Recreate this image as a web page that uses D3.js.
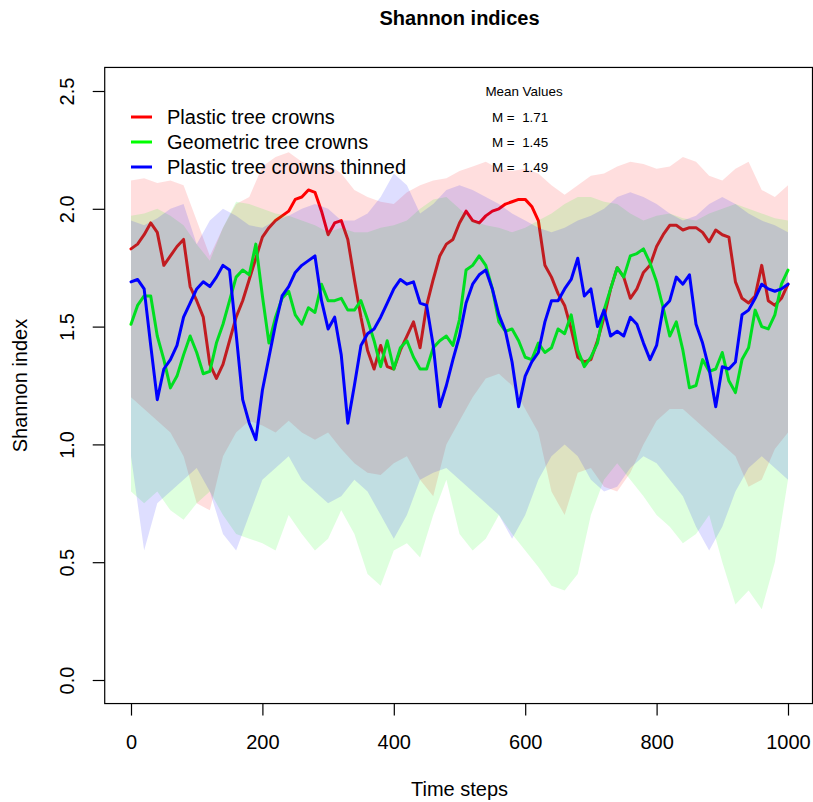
<!DOCTYPE html>
<html>
<head>
<meta charset="utf-8">
<script src="https://cdn.jsdelivr.net/npm/d3@7"></script>
<style>
  body { margin: 0; background: #fff; }
  svg { display: block; }
  text { font-family: "Liberation Sans", Arial, Helvetica, sans-serif; fill: #000; }
</style>
</head>
<body>
<svg id="chart" width="813" height="802"></svg>
<script>
// ---- data -------------------------------------------------------------
const seriesNames = ["Plastic tree crowns", "Geometric tree crowns", "Plastic tree crowns thinned"];
const seriesColors = ["#ff0000", "#00ff00", "#0000ff"];
const meanLabels = ["1.71", "1.45", "1.49"];

// mean curves, one value every 10 time steps (0..1000)
const lineSteps = d3.range(0, 1001, 10);
const plasticMean = [
  1.83,1.85,1.89,1.94,1.90,1.76,1.80,1.84,1.87,1.67,
  1.61,1.54,1.34,1.28,1.34,1.44,1.54,1.61,1.70,1.79,
  1.88,1.92,1.95,1.97,1.99,2.04,2.05,2.08,2.07,1.99,
  1.89,1.94,1.95,1.87,1.70,1.54,1.40,1.32,1.42,1.33,
  1.32,1.40,1.46,1.52,1.41,1.59,1.70,1.80,1.85,1.87,
  1.94,1.99,1.95,1.94,1.97,1.99,2.00,2.02,2.03,2.04,
  2.04,2.01,1.95,1.76,1.71,1.64,1.59,1.49,1.37,1.35,
  1.36,1.44,1.54,1.66,1.75,1.71,1.62,1.66,1.73,1.76,
  1.84,1.89,1.93,1.93,1.91,1.92,1.92,1.90,1.86,1.91,
  1.89,1.88,1.69,1.62,1.60,1.63,1.76,1.61,1.59,1.62,
  1.68];
const geometricMean = [
  1.51,1.59,1.63,1.63,1.46,1.36,1.24,1.29,1.38,1.46,
  1.39,1.30,1.31,1.43,1.51,1.61,1.71,1.74,1.72,1.85,
  1.63,1.43,1.54,1.62,1.65,1.55,1.51,1.58,1.56,1.68,
  1.61,1.61,1.62,1.57,1.57,1.61,1.53,1.44,1.33,1.44,
  1.32,1.41,1.44,1.37,1.32,1.32,1.41,1.44,1.46,1.42,
  1.53,1.74,1.76,1.80,1.76,1.66,1.52,1.48,1.49,1.44,
  1.37,1.36,1.43,1.39,1.41,1.49,1.47,1.55,1.40,1.33,
  1.37,1.43,1.57,1.66,1.75,1.71,1.80,1.81,1.83,1.77,
  1.69,1.58,1.46,1.52,1.40,1.24,1.25,1.36,1.31,1.32,
  1.39,1.27,1.22,1.36,1.41,1.57,1.50,1.49,1.55,1.68,
  1.74];
const thinnedMean = [
  1.69,1.70,1.66,1.42,1.19,1.32,1.36,1.42,1.54,1.60,
  1.66,1.69,1.67,1.71,1.76,1.74,1.47,1.19,1.09,1.02,
  1.23,1.37,1.51,1.63,1.67,1.73,1.76,1.78,1.80,1.61,
  1.49,1.54,1.38,1.09,1.25,1.42,1.47,1.49,1.54,1.60,
  1.66,1.70,1.68,1.69,1.60,1.59,1.42,1.16,1.25,1.36,
  1.46,1.60,1.68,1.72,1.74,1.66,1.55,1.48,1.35,1.16,
  1.29,1.35,1.39,1.52,1.61,1.61,1.66,1.70,1.79,1.63,
  1.66,1.50,1.57,1.46,1.48,1.46,1.54,1.51,1.43,1.36,
  1.42,1.58,1.61,1.71,1.68,1.72,1.51,1.43,1.32,1.16,
  1.33,1.32,1.35,1.55,1.57,1.62,1.68,1.66,1.65,1.66,
  1.68];

// spread bands, one value every 20 time steps (0..1000)
const bandSteps = d3.range(0, 1001, 20);
const plasticUpper = [
  2.12,2.13,2.11,2.12,2.10,1.95,1.80,1.92,2.02,2.05,
  2.18,2.22,2.24,2.20,2.18,2.19,2.15,2.08,2.05,2.03,
  2.02,2.07,2.10,2.12,2.13,2.16,2.18,2.20,2.17,2.16,
  2.17,2.15,2.10,2.06,2.10,2.14,2.15,2.18,2.20,2.19,
  2.17,2.18,2.22,2.20,2.14,2.12,2.17,2.20,2.08,2.05,
  2.10];
const plasticLower = [
  1.20,1.15,1.10,1.05,0.95,0.75,0.72,0.95,1.05,1.10,
  1.08,1.05,1.10,1.05,1.02,1.05,0.98,0.92,0.88,0.87,
  0.92,0.95,0.85,0.78,1.00,1.10,1.20,1.28,1.30,1.25,
  1.15,1.05,0.80,0.70,0.88,0.90,0.82,0.80,0.88,1.00,
  1.10,1.15,1.15,1.10,1.05,1.00,0.95,0.82,0.85,0.98,
  1.05];
const geometricUpper = [
  1.97,1.98,2.00,1.97,1.93,1.85,1.78,1.92,2.03,2.02,
  2.00,1.98,1.97,1.95,1.93,1.90,1.92,1.90,1.90,1.92,
  1.93,1.95,2.00,2.04,2.05,2.00,1.95,1.93,1.92,1.90,
  1.92,1.95,1.98,2.02,2.05,2.05,2.03,2.02,1.98,1.95,
  1.97,1.98,1.96,1.95,1.98,2.00,2.02,2.00,1.98,1.96,
  1.95];
const geometricLower = [
  0.80,0.75,0.80,0.72,0.68,0.75,0.80,0.70,0.62,0.60,
  0.58,0.55,0.70,0.62,0.55,0.60,0.72,0.62,0.45,0.40,
  0.55,0.58,0.52,0.70,0.85,0.62,0.55,0.60,0.70,0.62,
  0.55,0.48,0.40,0.38,0.45,0.70,0.85,0.92,0.85,0.78,
  0.70,0.65,0.58,0.62,0.70,0.50,0.32,0.38,0.30,0.50,
  0.85];
const thinnedUpper = [
  1.95,1.93,1.96,2.00,2.02,1.85,1.95,2.00,1.97,1.93,
  1.92,1.95,1.97,2.00,2.02,2.00,1.95,1.95,1.98,2.05,
  2.15,2.10,1.98,2.02,2.08,2.10,2.08,2.05,2.02,1.98,
  1.95,1.92,1.90,1.92,1.95,1.97,2.00,2.05,2.07,2.05,
  2.02,1.98,1.95,1.97,2.02,2.05,2.02,1.98,1.95,1.93,
  1.90];
const thinnedLower = [
  0.95,0.55,0.75,0.80,0.85,0.90,0.80,0.62,0.55,0.70,
  0.85,0.90,0.95,0.85,0.80,0.75,0.78,0.85,0.80,0.70,
  0.60,0.70,0.85,0.88,0.90,0.85,0.80,0.75,0.70,0.60,
  0.70,0.85,0.95,1.00,0.95,0.85,0.80,0.82,0.90,0.95,
  0.92,0.85,0.78,0.65,0.55,0.65,0.80,0.90,0.95,0.90,
  0.85];

const yTicks = [0, 0.5, 1.0, 1.5, 2.0, 2.5];
const xTicks = [0, 200, 400, 600, 800, 1000];

// ---- layout -----------------------------------------------------------
const svg = d3.select("#chart");
const x = d3.scaleLinear().domain([0, 1000]).range([131, 788]);
const y = d3.scaleLinear().domain([0, 2.5]).range([680, 91]);
const box = { left: x(-40), right: 812.5, top: y(2.6), bottom: y(-0.1) };

svg.append("defs").append("clipPath").attr("id", "plotClip")
  .append("rect")
  .attr("x", box.left).attr("y", box.top)
  .attr("width", box.right - box.left).attr("height", box.bottom - box.top);

const plot = svg.append("g").attr("clip-path", "url(#plotClip)");

const series = [
  { mean: plasticMean, upper: plasticUpper, lower: plasticLower },
  { mean: geometricMean, upper: geometricUpper, lower: geometricLower },
  { mean: thinnedMean, upper: thinnedUpper, lower: thinnedLower }
];

const area = d3.area()
  .x(d => x(d.t)).y0(d => y(d.lo)).y1(d => y(d.hi));
const line = d3.line()
  .x(d => x(d.t)).y(d => y(d.v));

// each series: translucent spread band first, then its mean curve
series.forEach((s, i) => {
  const bandData = bandSteps.map((t, j) => ({ t, lo: s.lower[j], hi: s.upper[j] }));
  const rgb = d3.rgb(seriesColors[i]);
  plot.append("path")
    .datum(bandData)
    .attr("d", area)
    .attr("fill", `rgba(${rgb.r},${rgb.g},${rgb.b},0.13)`)
    .attr("stroke", "none");
  plot.append("path")
    .datum(lineSteps.map((t, j) => ({ t, v: s.mean[j] })))
    .attr("d", line)
    .attr("fill", "none")
    .attr("stroke", seriesColors[i])
    .attr("stroke-width", 3)
    .attr("stroke-linejoin", "round")
    .attr("stroke-linecap", "round");
});

// ---- frame and axes ---------------------------------------------------
svg.append("rect")
  .attr("x", box.left).attr("y", box.top)
  .attr("width", box.right - box.left).attr("height", box.bottom - box.top)
  .attr("fill", "none").attr("stroke", "#000").attr("stroke-width", 1.2);

const xAxis = svg.append("g")
  .attr("transform", `translate(0,${box.bottom})`)
  .call(d3.axisBottom(x).tickValues(xTicks).tickFormat(d3.format("d"))
    .tickSize(12).tickPadding(19));
xAxis.select(".domain").remove();
xAxis.selectAll("line").attr("stroke", "#000").attr("stroke-width", 1.2);
xAxis.selectAll("text").attr("font-size", 20)
  .style("font-family", "'Liberation Sans', Arial, Helvetica, sans-serif");

const yAxis = svg.append("g")
  .attr("transform", `translate(${box.left},0)`)
  .call(d3.axisLeft(y).tickValues(yTicks).tickFormat(d3.format(".1f")).tickSize(12));
yAxis.select(".domain").remove();
yAxis.selectAll("line").attr("stroke", "#000").attr("stroke-width", 1.2);
yAxis.selectAll("text")
  .attr("x", null).attr("dy", "0.35em")
  .attr("text-anchor", "middle")
  .attr("transform", "translate(-38,0) rotate(-90)")
  .attr("font-size", 20)
  .style("font-family", "'Liberation Sans', Arial, Helvetica, sans-serif");

// ---- titles -----------------------------------------------------------
const midX = (x(-40) + x(1040)) / 2;
svg.append("text")
  .attr("x", midX).attr("y", 25)
  .attr("text-anchor", "middle")
  .attr("font-size", 20).attr("font-weight", "bold")
  .text("Shannon indices");

svg.append("text")
  .attr("x", midX).attr("y", 796)
  .attr("text-anchor", "middle")
  .attr("font-size", 20)
  .text("Time steps");

svg.append("text")
  .attr("transform", `translate(20,${(box.top + box.bottom) / 2}) rotate(-90)`)
  .attr("dy", "0.35em")
  .attr("text-anchor", "middle")
  .attr("font-size", 20)
  .text("Shannon index");

// ---- legend -----------------------------------------------------------
const legend = svg.append("g");
seriesNames.forEach((name, i) => {
  const ly = 117 + i * 25;
  legend.append("line")
    .attr("x1", 131).attr("x2", 152).attr("y1", ly).attr("y2", ly)
    .attr("stroke", seriesColors[i]).attr("stroke-width", 3);
  legend.append("text")
    .attr("x", 167).attr("y", ly).attr("dy", "0.35em")
    .attr("font-size", 20)
    .text(name);
  legend.append("text")
    .attr("x", 492).attr("y", ly).attr("dy", "0.35em")
    .attr("font-size", 13.4)
    .style("white-space", "pre")
    .text("M =  " + meanLabels[i]);
});
legend.append("text")
  .attr("x", 524).attr("y", 91).attr("dy", "0.35em")
  .attr("text-anchor", "middle")
  .attr("font-size", 13.4)
  .text("Mean Values");
</script>
</body>
</html>
